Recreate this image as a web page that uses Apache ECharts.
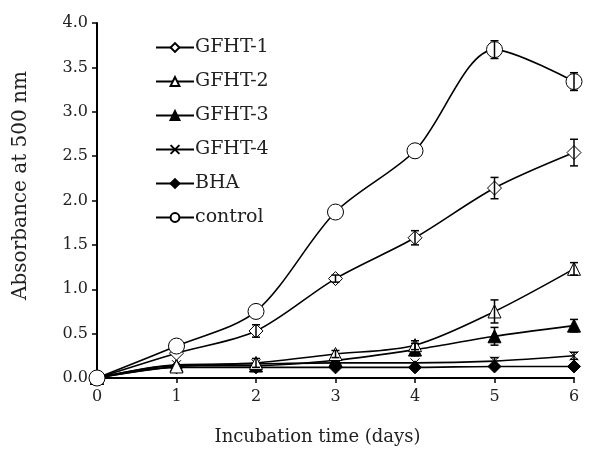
<!DOCTYPE html>
<html>
<head>
<meta charset="utf-8">
<script src="https://cdn.jsdelivr.net/npm/echarts@6/dist/echarts.min.js"></script>
<style>
    html, body { margin: 0; padding: 0; background: #fff; }
    #chart { width: 614px; height: 451px; }
</style>
</head>
<body>
<div id="chart"></div>
<script>
var days = [0, 1, 2, 3, 4, 5, 6];
var gfht1 = [0, 0.28, 0.53, 1.12, 1.58, 2.14, 2.54];
var gfht2 = [0, 0.13, 0.17, 0.27, 0.37, 0.75, 1.23];
var gfht3 = [0, 0.14, 0.14, 0.20, 0.32, 0.47, 0.59];
var gfht4 = [0, 0.15, 0.16, 0.17, 0.17, 0.19, 0.25];
var bha = [0, 0.12, 0.12, 0.12, 0.12, 0.13, 0.13];
var control = [0, 0.36, 0.75, 1.87, 2.56, 3.70, 3.34];

// error bar half-widths
var gfht1Err = [0, 0, 0.07, 0.04, 0.08, 0.12, 0.15];
var gfht2Err = [0, 0, 0.05, 0.04, 0.05, 0.13, 0.07];
var gfht3Err = [0, 0, 0, 0, 0.07, 0.1, 0.07];
var gfht4Err = [0, 0, 0, 0, 0, 0.04, 0.04];
var bhaErr = [0, 0, 0, 0, 0, 0, 0];
var controlErr = [0, 0, 0, 0, 0, 0.1, 0.1];

var xTicks = ['0', '1', '2', '3', '4', '5', '6'];

var font = 'DejaVu Serif';
var xPath = 'path://M0,0L10,10M10,0L0,10';

function pairs(vals) {
    return days.map(function (d, i) { return [d, vals[i]]; });
}

function errData(vals, errs) {
    var out = [];
    days.forEach(function (d, i) {
        if (errs[i] > 0) out.push([d, vals[i] - errs[i], vals[i] + errs[i]]);
    });
    return out;
}

function errSeries(vals, errs) {
    return {
        type: 'custom',
        z: 5,
        silent: true,
        data: errData(vals, errs),
        renderItem: function (params, api) {
            var lo = api.coord([api.value(0), api.value(1)]);
            var hi = api.coord([api.value(0), api.value(2)]);
            var w = 4;
            var st = { stroke: '#000', lineWidth: 1.5 };
            return {
                type: 'group',
                children: [
                    { type: 'line', shape: { x1: lo[0], y1: lo[1], x2: hi[0], y2: hi[1] }, style: st },
                    { type: 'line', shape: { x1: lo[0] - w, y1: lo[1], x2: lo[0] + w, y2: lo[1] }, style: st },
                    { type: 'line', shape: { x1: hi[0] - w, y1: hi[1], x2: hi[0] + w, y2: hi[1] }, style: st }
                ]
            };
        }
    };
}

function lineSeries(name, vals, symbol, size, fill) {
    return {
        name: name,
        type: 'line',
        smooth: 0.3,
        data: pairs(vals),
        symbol: symbol,
        symbolSize: size,
        showAllSymbol: true,
        z: 3,
        lineStyle: { color: '#000', width: 1.6 },
        itemStyle: { color: fill, borderColor: '#000', borderWidth: 1 }
    };
}

var chart = echarts.init(document.getElementById('chart'));
chart.setOption({
    animation: false,
    backgroundColor: '#fff',
    grid: { left: 97, right: 40, top: 23, bottom: 73 },
    legend: {
        orient: 'vertical',
        left: 150,
        top: 33,
        itemGap: 15,
        itemWidth: 38,
        itemHeight: 11,
        textStyle: { fontFamily: font, fontSize: 19, color: '#222', padding: [0, 0, 0, -4] },
        data: ['GFHT-1', 'GFHT-2', 'GFHT-3', 'GFHT-4', 'BHA', 'control']
    },
    xAxis: {
        type: 'value',
        min: 0,
        max: 6,
        interval: 1,
        name: 'Incubation time (days)',
        nameLocation: 'middle',
        nameGap: 50,
        nameTextStyle: { fontFamily: font, fontSize: 18, color: '#222', padding: [0, 36, 0, 0] },
        axisLine: { lineStyle: { color: '#000', width: 2 } },
        axisTick: { lineStyle: { color: '#000', width: 1.5 }, length: 5 },
        axisLabel: {
            fontFamily: font, fontSize: 16, color: '#222', margin: 11,
            formatter: function (v) { return xTicks[v]; }
        },
        splitLine: { show: false }
    },
    yAxis: {
        type: 'value',
        min: 0,
        max: 4,
        interval: 0.5,
        name: 'Absorbance at 500 nm',
        nameLocation: 'middle',
        nameGap: 66,
        nameTextStyle: { fontFamily: font, fontSize: 20, color: '#222', padding: [0, 0, 0, 30] },
        axisLine: { show: true, lineStyle: { color: '#000', width: 2 } },
        axisTick: { show: true, lineStyle: { color: '#000', width: 1.5 }, length: 5 },
        axisLabel: {
            fontFamily: font, fontSize: 16, color: '#222', margin: 9,
            formatter: function (v) { return v.toFixed(1); }
        },
        splitLine: { show: false }
    },
    series: [
        lineSeries('BHA', bha, 'diamond', 13, '#000'),
        lineSeries('GFHT-4', gfht4, xPath, 9, '#000'),
        lineSeries('GFHT-3', gfht3, 'triangle', 13, '#000'),
        lineSeries('GFHT-2', gfht2, 'triangle', 13, '#fff'),
        lineSeries('GFHT-1', gfht1, 'diamond', 14, '#fff'),
        lineSeries('control', control, 'circle', 16, '#fff'),
        errSeries(gfht1, gfht1Err),
        errSeries(gfht2, gfht2Err),
        errSeries(gfht3, gfht3Err),
        errSeries(gfht4, gfht4Err),
        errSeries(bha, bhaErr),
        errSeries(control, controlErr)
    ]
});
</script>
</body>
</html>
